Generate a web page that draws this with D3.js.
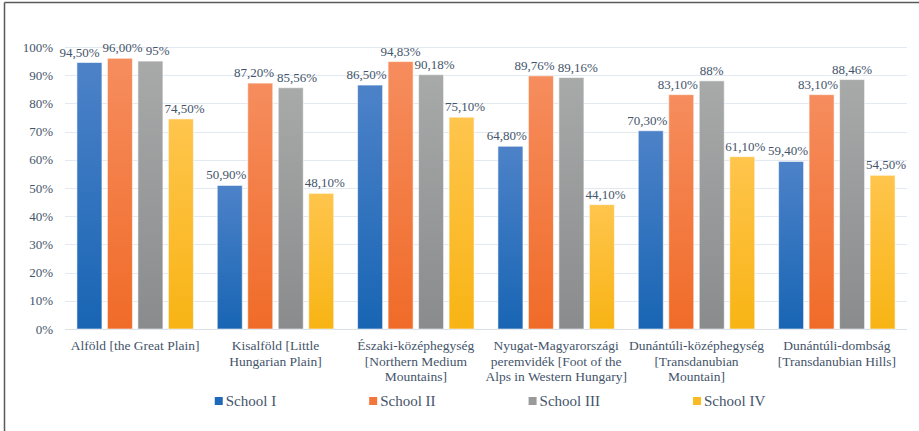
<!DOCTYPE html>
<html>
<head>
<meta charset="utf-8">
<script src="https://cdn.jsdelivr.net/npm/d3@7"></script>
<style>
  html, body { margin: 0; padding: 0; background: #ffffff; }
  svg { display: block; }
  text { font-family: "Liberation Serif", "Times New Roman", serif; fill: #44546a; }
</style>
</head>
<body>
<svg id="chart" width="919" height="431"></svg>
<script>
// Regions (category axis), one line break per wrapped label line
const categories = [
  "Alföld [the Great Plain]",
  "Kisalföld [Little\nHungarian Plain]",
  "Északi-középhegység\n[Northern Medium\nMountains]",
  "Nyugat-Magyarországi\nperemvidék [Foot of the\nAlps in Western Hungary]",
  "Dunántúli-középhegység\n[Transdanubian\nMountain]",
  "Dunántúli-dombság\n[Transdanubian Hills]"
];
const seriesNames = ["School I", "School II", "School III", "School IV"];
const schoolI   = [94.50, 50.90, 86.50, 64.80, 70.30, 59.40];
const schoolII  = [96.00, 87.20, 94.83, 89.76, 83.10, 83.10];
const schoolIII = [95, 85.56, 90.18, 89.16, 88, 88.46];
const schoolIV  = [74.50, 48.10, 75.10, 44.10, 61.10, 54.50];
// School III labels use a general number format, the others two decimals
const labelFormats = ["fixed", "fixed", "general", "fixed"];
const yTicks = [0, 10, 20, 30, 40, 50, 60, 70, 80, 90, 100];

const seriesValues = [schoolI, schoolII, schoolIII, schoolIV];
const colorsTop    = ["#4d82c8", "#f68d5e", "#a8a9a9", "#ffc54d"];
const colorsBottom = ["#1865b4", "#f06b28", "#8a8b8c", "#f8b414"];
const swatch       = ["#1f6ab8", "#f3773d", "#9a9a9a", "#fbbb26"];

const svg = d3.select("#chart");
const W = 919, H = 431;
const plot = { left: 65, right: 907, top: 47, bottom: 329 };

// outer frame (top and left edges)
svg.append("line").attr("x1", 4.5).attr("x2", W).attr("y1", 2.5).attr("y2", 2.5)
  .attr("stroke", "#5a5a5a").attr("stroke-width", 1.5);
svg.append("line").attr("x1", 4.5).attr("x2", 4.5).attr("y1", 2.5).attr("y2", H)
  .attr("stroke", "#5a5a5a").attr("stroke-width", 1.5);

const defs = svg.append("defs");
seriesNames.forEach((s, i) => {
  const g = defs.append("linearGradient").attr("id", "grad" + i)
    .attr("x1", 0).attr("x2", 0).attr("y1", 0).attr("y2", 1);
  g.append("stop").attr("offset", "0%").attr("stop-color", colorsTop[i]);
  g.append("stop").attr("offset", "100%").attr("stop-color", colorsBottom[i]);
});

const x0 = d3.scaleBand().domain(d3.range(categories.length))
  .range([plot.left, plot.right]).paddingInner(0.17).paddingOuter(0.085);
const x1 = d3.scaleBand().domain(d3.range(seriesNames.length))
  .range([0, x0.bandwidth()]).paddingInner(0.18).paddingOuter(0);
const y = d3.scaleLinear().domain([0, 100]).range([plot.bottom, plot.top]);

// gridlines
svg.append("g").selectAll("line").data(yTicks).join("line")
  .attr("x1", plot.left).attr("x2", plot.right)
  .attr("y1", d => Math.round(y(d)) + 0.5).attr("y2", d => Math.round(y(d)) + 0.5)
  .attr("stroke", d => d === 0 ? "#d9e0e8" : "#e3e9f0").attr("stroke-width", 1.2);

// y axis labels
const yAxis = d3.axisLeft(y).tickValues(yTicks).tickFormat(d => d + "%").tickSize(0).tickPadding(0);
const ya = svg.append("g").attr("transform", `translate(${plot.left - 12},0)`).call(yAxis);
ya.select(".domain").remove();
ya.selectAll("text").attr("font-size", 13).attr("fill", "#44546a")
  .attr("font-family", "Liberation Serif, serif");

// bars
const bars = [];
categories.forEach((c, ci) => {
  seriesNames.forEach((s, si) => {
    const v = seriesValues[si][ci];
    bars.push({ ci, si, v, x: x0(ci) + x1(si), w: x1.bandwidth(), top: y(v) });
  });
});
svg.append("g").selectAll("rect").data(bars).join("rect")
  .attr("x", d => d.x).attr("y", d => d.top)
  .attr("width", d => d.w).attr("height", d => y(0) - d.top)
  .attr("fill", d => `url(#grad${d.si})`)
  .attr("stroke", "rgba(255,255,255,0.55)").attr("stroke-width", 1);

// value labels
function fmt(v, kind) {
  const s = kind === "general" ? String(+v.toFixed(2)) : v.toFixed(2);
  return s.replace(".", ",") + "%";
}
const lg = svg.append("g");
const labels = bars.map(b => {
  const t = lg.append("text").attr("font-size", 13).attr("fill", "#3f4f63")
    .attr("text-anchor", "middle").text(fmt(b.v, labelFormats[b.si]));
  const w = t.node().getComputedTextLength();
  return { bar: b, node: t, w, cx: b.x + b.w / 2, base: b.top - 6 };
});

// nudge labels sideways so they clear taller neighbouring bars and each other
const m = 1.5;
for (let it = 0; it < 120; it++) {
  labels.forEach(L => {
    const lb = L.base + 1;
    bars.forEach(B => {
      if (B === L.bar) return;
      if (lb <= B.top) return;
      const l0 = L.cx - L.w / 2, l1 = L.cx + L.w / 2;
      const b0 = B.x - m, b1 = B.x + B.w + m;
      if (l1 > b0 && l0 < b1) {
        if (L.cx < B.x + B.w / 2) L.cx -= (l1 - b0) * 0.5;
        else L.cx += (b1 - l0) * 0.5;
      }
    });
  });
  for (let i = 0; i < labels.length; i++) {
    for (let j = i + 1; j < labels.length; j++) {
      const A = labels[i], B = labels[j];
      if (Math.abs(A.base - B.base) >= 11) continue;
      const ov = (A.w + B.w) / 2 + m * 2 - Math.abs(A.cx - B.cx);
      if (ov > 0) {
        const dir = A.cx <= B.cx ? 1 : -1;
        A.cx -= dir * ov * 0.25;
        B.cx += dir * ov * 0.25;
      }
    }
  }
}
labels.forEach(L => L.node.attr("x", L.cx).attr("y", L.base));

// category labels
const cg = svg.append("g");
categories.forEach((c, ci) => {
  const t = cg.append("text").attr("text-anchor", "middle")
    .attr("font-size", 13.5).attr("fill", "#44546a")
    .attr("transform", `translate(${x0(ci) + x0.bandwidth() / 2},350)`);
  c.split("\n").forEach((line, li) => {
    t.append("tspan").attr("x", 0).attr("y", li * 15.5).text(line);
  });
});

// legend
const leg = svg.append("g");
const items = seriesNames.map((s, i) => {
  const g = leg.append("g");
  g.append("rect").attr("x", 0).attr("y", -8.5).attr("width", 8).attr("height", 8).attr("fill", swatch[i]);
  const t = g.append("text").attr("x", 11).attr("y", 0).attr("font-size", 15).attr("fill", "#44546a").text(s);
  return { g, w: 11 + t.node().getComputedTextLength() };
});
const gap = 93;
const total = d3.sum(items, d => d.w) + gap * (items.length - 1);
let lx = (plot.left + plot.right) / 2 + 4 - total / 2;
items.forEach(it => {
  it.g.attr("transform", `translate(${lx},405.5)`);
  lx += it.w + gap;
});
</script>
</body>
</html>
